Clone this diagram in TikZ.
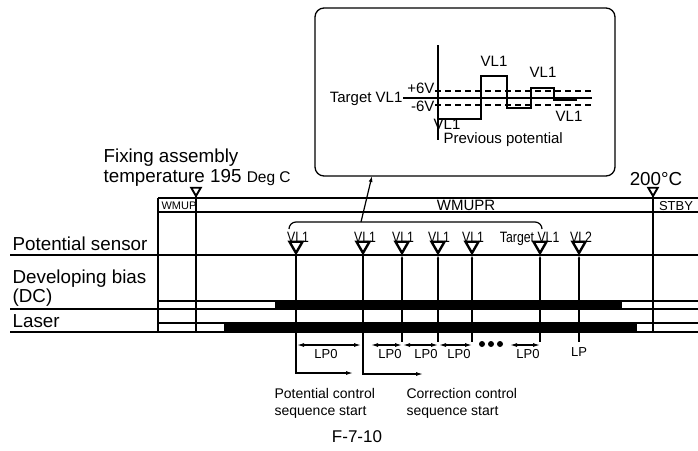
\documentclass[tikz,border=0pt]{standalone}
\usepackage{fontspec}
\setmainfont{Liberation Sans}
\newfontfamily\narrowsf[FakeStretch=0.82]{Liberation Sans}
\usetikzlibrary{shapes.geometric,arrows.meta}

\tikzset{
  rowlabel/.style={inner sep=0pt, font=\fontsize{18.8}{21}\selectfont},
  midtext/.style={inner sep=0pt, font=\fontsize{15}{17}\selectfont},
  smalltext/.style={inner sep=0pt, font=\fontsize{14}{16}\selectfont},
  lptext/.style={inner sep=0pt, font=\fontsize{13}{15}\selectfont},
  vltext/.style={inner sep=0pt, font=\narrowsf\fontsize{15}{17}\selectfont},
  marker/.style={draw, fill=white, regular polygon, regular polygon sides=3,
    shape border rotate=180, minimum size=15pt, inner sep=0pt, outer sep=0pt,
    line width=2.4pt},
  tempmark/.style={marker, minimum size=11pt, line width=1.9pt},
  uptip/.style={{Latex[length=4pt,width=2.6pt]}-, shorten <=2pt},
  lparrow/.style={{Latex[length=7pt,width=4pt]}-{Latex[length=7pt,width=4pt]}},
}

\begin{document}
\begin{tikzpicture}[x=1pt,y=-1pt,line width=1.2pt]
\useasboundingbox (0,0) rectangle (698,450);

% Callout
\node[draw, line width=1.3pt, rounded corners=9pt, minimum width=300pt,
  minimum height=168pt, inner sep=0pt] (zoombox) at (465,92) {};

\draw (438,45) -- (438,140);
\draw[line width=2.6pt] (403,98) -- (592,98);
\draw[dash pattern=on 6pt off 4pt] (435,91) -- (592,91);
\draw[dash pattern=on 6pt off 4pt] (435,105) -- (592,105);
\draw (438,119) -| (481,76) -| (507,108) -| (531,88) -| (554,100) -- (577,100);

\node[midtext, anchor=base east] (tgt) at (403,102) {Target VL1};
\node[midtext, anchor=base east] (plus) at (435,93) {+6V};
\node[midtext, anchor=base east] (minus) at (435,111) {-6V};
\node[midtext, anchor=base] (w1) at (494,66) {VL1};
\node[midtext, anchor=base] (w2) at (543,77) {VL1};
\node[midtext, anchor=base] (w3) at (569,121) {VL1};
\node[midtext, anchor=base] (w0) at (447,129) {VL1};
\node[midtext, anchor=base west] (prev) at (443,143) {Previous potential};

% Fixing temperature
\node[rowlabel, anchor=base west] (fix1) at (103,162) {Fixing assembly};
\node[rowlabel, anchor=base west] (fix2) at (103,182)
  {temperature 195 {\fontsize{15.5}{17}\selectfont Deg C}};
\node[rowlabel, anchor=base] (hot) at (656,185) {200°C};

% Time chart
\draw (158,198) -- (698,198);
\draw (158,212) -- (698,212);
\draw (10,255) -- (698,255);
\draw (158,301) -- (698,301);
\draw (10,309) -- (698,309);
\draw (158,323) -- (698,323);
\draw (10,332) -- (698,332);

\fill (275,300) rectangle (622,309.5);
\fill (224,323) rectangle (637,333);

\draw (158,198) -- (158,332);
\node[tempmark, anchor=corner 1] (tm1) at (196,196) {};
\node[tempmark, anchor=corner 1] (tm2) at (653,196) {};
\draw[line width=1.4pt] (tm1.corner 1) -- ++(0,136);
\draw[line width=1.4pt] (tm2.corner 1) -- ++(0,136);

\node[inner sep=0pt, font=\fontsize{11}{12}\selectfont, anchor=base west] (wmup) at (161,209) {WMUP};
\node[midtext, anchor=base] (wmupr) at (466,210) {WMUPR};
\node[inner sep=0pt, font=\fontsize{13}{15}\selectfont, anchor=base] (stby) at (676,210) {STBY};

\node[rowlabel, anchor=base west] (ps) at (12,250) {Potential sensor};
\node[rowlabel, anchor=base west] (db) at (12,283) {Developing bias};
\node[rowlabel, anchor=base west] (dc) at (12,302) {(DC)};
\node[rowlabel, anchor=base west] (lz) at (12,327) {Laser};

% Potential sensor readings
\node[marker, anchor=corner 1] (s1) at (296,253) {};
\node[marker, anchor=corner 1] (s2) at (363,253) {};
\node[marker, anchor=corner 1] (s3) at (402,253) {};
\node[marker, anchor=corner 1] (s4) at (438,253) {};
\node[marker, anchor=corner 1] (s5) at (472,253) {};
\node[marker, anchor=corner 1] (s6) at (540,253) {};
\node[marker, anchor=corner 1] (s7) at (579,253) {};

\node[vltext, anchor=base] (v1) at (298,242) {VL1};
\node[vltext, anchor=base] (v2) at (365,242) {VL1};
\node[vltext, anchor=base] (v3) at (403,242) {VL1};
\node[vltext, anchor=base] (v4) at (439,242) {VL1};
\node[vltext, anchor=base] (v5) at (473,242) {VL1};
\node[vltext, anchor=base east] (v6) at (560,242) {Target VL1};
\node[vltext, anchor=base] (v7) at (581,242) {VL2};

% Bracket to callout
\draw[rounded corners=7pt] (289,229) |- (542,222) -- (542,229);
\coordinate (brk) at (361,222);
\coordinate (co) at (372,176);
\draw[-{Latex[length=6pt,width=4pt]}] (brk) -- (co);

% Sequence starts
\coordinate (pcs) at (353,373);
\coordinate (ccs) at (423,374);
\draw[uptip, -{Latex[length=7pt,width=4pt]}] (s1.corner 1) |- (pcs);
\draw[uptip, -{Latex[length=7pt,width=4pt]}] (s2.corner 1) |- (ccs);
\draw[uptip] (s3.corner 1) -- ++(0,89);
\draw[uptip] (s4.corner 1) -- ++(0,89);
\draw[uptip] (s5.corner 1) -- ++(0,89);
\draw[uptip] (s6.corner 1) -- ++(0,89);
\draw[uptip] (s7.corner 1) -- ++(0,89);

% LP0 intervals
\draw[lparrow] (297,345) -- (361,345);
\draw[lparrow] (371,345) -- (402,345);
\draw[lparrow] (403,345) -- (438,345);
\draw[lparrow] (439,345) -- (472,345);
\draw[lparrow] (510,345) -- (540,345);
\foreach \dx in {482,491,500} \fill (\dx,344) circle (3pt);

\node[lptext] (lp1) at (326,354) {LP0};
\node[lptext] (lp2) at (390,354) {LP0};
\node[lptext] (lp3) at (426,354) {LP0};
\node[lptext] (lp4) at (459,354) {LP0};
\node[lptext] (lp5) at (528,354) {LP0};
\node[lptext] (lp6) at (579,352) {LP};

\node[smalltext, anchor=base west] (pc1) at (274,398) {Potential control};
\node[smalltext, anchor=base west] (pc2) at (274,415) {sequence start};
\node[smalltext, anchor=base west] (cc1) at (406,398) {Correction control};
\node[smalltext, anchor=base west] (cc2) at (406,415) {sequence start};

\node[inner sep=0pt, font=\fontsize{17}{19}\selectfont] (fig) at (357,437) {F-7-10};

\end{tikzpicture}
\end{document}
